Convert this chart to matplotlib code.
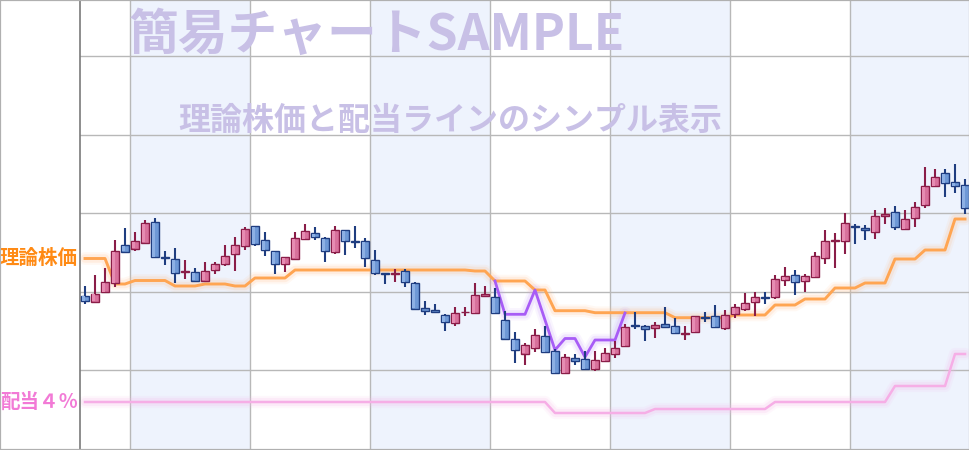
import numpy as np
import matplotlib
matplotlib.use("Agg")
import matplotlib.pyplot as plt
from matplotlib.patches import Rectangle

plt.rcParams['font.family'] = ['Noto Sans CJK JP', 'DejaVu Sans']

# ---- data (price units) ----
opens = [154.3, 148.3, 157.7, 166.7, 204.7, 201.3, 207.3, 227.7, 192.3, 190.7,
         178.5, 177.7, 169.3, 179.7, 185.7, 195.7, 203.7, 223.7, 209.7, 198.7,
         185.7, 191.3, 210.7, 216.7, 211.7, 197.7, 219.7, 208.3, 208.7, 189.7,
         176.3, 176.5, 178.7, 166.7, 141.7, 139.7, 134.7, 126.7, 137.7, 136.7,
         153.7, 152.7, 129.7, 110.7, 96.3, 101.7, 113.7, 98.7, 76.7, 91.7,
         90.7, 80.7, 88.7, 95.7, 103.7, 124.7, 123.7, 121.7, 125.7, 123.7,
         116.0, 117.7, 132.8, 133.7, 121.7, 135.7, 140.7, 147.7, 152.8, 152.7,
         169.7, 174.7, 168.7, 172.7, 191.7, 209.5, 208.7, 223.5, 221.7, 217.7,
         233.7, 237.7, 220.7, 231.7, 244.7, 263.7, 276.7, 267.7, 264.7]
highs = [164.0, 174.7, 182.0, 210.0, 222.0, 218.0, 230.0, 232.0, 199.0, 201.7,
         190.0, 182.0, 188.0, 188.0, 205.0, 213.0, 223.0, 223.7, 218.0, 198.7,
         192.7, 218.0, 226.0, 223.0, 212.7, 224.0, 219.7, 224.0, 211.7, 200.0,
         176.3, 181.0, 181.0, 167.7, 149.0, 146.0, 135.7, 142.7, 142.7, 166.7,
         163.7, 161.7, 138.7, 117.7, 106.7, 120.7, 123.7, 100.7, 95.7, 95.7,
         98.7, 98.7, 101.7, 108.7, 125.7, 137.7, 124.7, 127.7, 142.7, 131.7,
         124.3, 133.7, 137.7, 144.7, 139.7, 145.7, 156.7, 157.7, 157.7, 174.7,
         182.7, 179.7, 175.7, 197.7, 219.7, 216.7, 237.0, 226.0, 224.7, 239.7,
         241.7, 243.7, 239.7, 247.7, 282.7, 280.7, 280.7, 285.7, 270.7]
lows = [146.3, 147.7, 157.7, 163.3, 198.3, 199.3, 206.3, 192.7, 185.0, 167.3,
        171.0, 169.3, 168.7, 175.7, 184.3, 179.3, 200.3, 204.3, 194.3, 176.3,
        178.3, 190.0, 209.7, 209.7, 187.7, 195.7, 194.7, 201.7, 183.3, 175.3,
        165.7, 168.3, 163.3, 140.3, 135.3, 137.7, 119.3, 124.3, 133.7, 136.7,
        152.7, 135.7, 110.7, 86.7, 84.7, 97.7, 97.7, 76.7, 76.7, 84.7,
        79.7, 78.7, 87.7, 91.7, 102.7, 120.7, 108.7, 111.7, 121.7, 115.7,
        110.3, 116.7, 127.7, 121.7, 119.7, 131.7, 138.7, 133.7, 145.7, 150.7,
        163.7, 154.7, 157.7, 172.7, 185.7, 181.7, 195.7, 205.7, 209.7, 210.7,
        225.7, 219.7, 219.7, 222.7, 241.7, 262.7, 252.7, 256.7, 235.7]
closes = [148.7, 156.3, 167.7, 198.7, 198.3, 208.7, 226.7, 192.7, 192.0, 176.7,
          179.0, 169.3, 178.7, 185.7, 193.7, 204.7, 220.7, 205.7, 199.7, 185.7,
          192.7, 211.7, 218.7, 212.7, 198.7, 219.7, 208.7, 208.0, 191.7, 176.7,
          176.0, 177.0, 167.7, 141.0, 138.7, 137.7, 127.7, 136.7, 138.2, 154.7,
          155.7, 136.7, 111.3, 99.7, 104.7, 114.7, 97.7, 76.7, 92.7, 88.7,
          80.7, 89.7, 96.7, 101.7, 122.7, 124.3, 120.7, 124.7, 122.7, 116.7,
          116.5, 133.7, 132.5, 122.7, 134.7, 142.7, 146.7, 152.7, 152.5, 170.7,
          173.7, 167.7, 173.7, 193.7, 208.7, 210.0, 226.7, 223.0, 219.7, 233.7,
          235.7, 222.7, 230.7, 242.7, 263.7, 272.7, 266.7, 263.7, 241.7]

# theoretical price line (理論株価)
theory = [191.5, 191.5, 191.5, 166.0, 166.0, 169.5, 169.5, 169.5, 169.5, 164.0,
          164.0, 164.0, 166.0, 166.0, 166.0, 164.0, 164.0, 172.0, 172.0, 172.0,
          172.0, 180.0, 180.0, 180.0, 180.0, 180.0, 180.0, 180.0, 180.0, 180.0,
          180.0, 180.0, 180.0, 180.0, 180.0, 180.0, 180.0, 180.0, 180.0, 179.0,
          179.0, 169.0, 169.0, 169.0, 169.0, 160.0, 160.0, 139.3, 139.3, 139.3,
          139.3, 137.3, 137.3, 137.3, 137.3, 137.3, 137.3, 137.3, 137.3, 132.3,
          132.3, 132.3, 132.3, 132.3, 132.3, 135.0, 135.0, 135.0, 135.0, 145.0,
          145.0, 145.0, 151.0, 151.0, 151.0, 162.0, 162.0, 162.0, 167.0, 167.0,
          167.0, 191.0, 191.0, 191.0, 200.0, 200.0, 200.0, 231.0, 231.0]

# lower alternative theoretical line (purple), only where it differs
alt_start = 41
alt_theory = [169.0, 135.7, 135.7, 135.7, 160.0, 130.0, 100.0, 111.5, 111.5,
              93.0, 110.0, 110.0, 110.0, 137.0]

# dividend 4% line (配当４％)
dividend = [48, 48, 48, 48, 48, 48, 48, 48, 48, 48,
            48, 48, 48, 48, 48, 48, 48, 48, 48, 48,
            48, 48, 48, 48, 48, 48, 48, 48, 48, 48,
            48, 48, 48, 48, 48, 48, 48, 48, 48, 48,
            48, 48, 48, 48, 48, 48, 48, 37, 37, 37,
            37, 37, 37, 37, 37, 37, 37, 41, 41, 41,
            41, 41, 41, 41, 41, 41, 41, 41, 41, 48,
            48, 48, 48, 48, 48, 48, 48, 48, 48, 48,
            48, 64, 64, 64, 64, 64, 64, 96, 96]

title = '簡易チャートSAMPLE'
subtitle = '理論株価と配当ラインのシンプル表示'
label_theory = '理論株価'
label_div = '配当４％'

# ---- figure ----
fig = plt.figure(figsize=(9.7, 4.5), dpi=100)
fig.patch.set_facecolor('white')
ax = fig.add_axes([80 / 970, 0, 890 / 970, 1])
n = len(opens)
x = np.arange(n)
ax.set_xlim(-0.5, n - 0.5)
ax.set_ylim(0, 450)

grid_x = [4.5, 16.5, 28.5, 40.5, 52.5, 64.5, 76.5]
grid_y = [79.7, 158.2, 236.7, 315.2, 393.7]
band_color = '#eef3fd'
for k in range(0, len(grid_x), 2):
    right = grid_x[k + 1] if k + 1 < len(grid_x) else n - 0.5
    ax.axvspan(grid_x[k], right, color=band_color, lw=0, zorder=0)
for gx in grid_x:
    ax.axvline(gx, color='#b8b8b8', lw=1, zorder=1)
for gy in grid_y:
    ax.axhline(gy, color='#b8b8b8', lw=1, zorder=1)

for s in ['top', 'right', 'bottom']:
    ax.spines[s].set_visible(False)
ax.spines['left'].set_color('#7a7a7a')
ax.spines['left'].set_linewidth(1.2)
ax.set_xticks([])
ax.set_yticks([])


def glow_line(xs, ys, color, glow, lw):
    ax.plot(xs, ys, color=glow, lw=lw + 7, alpha=0.10, solid_capstyle='round', zorder=2)
    ax.plot(xs, ys, color=glow, lw=lw + 4, alpha=0.18, solid_capstyle='round', zorder=2)
    ax.plot(xs, ys, color=color, lw=lw, zorder=3, solid_joinstyle='round')


glow_line(x, dividend, '#f6aee6', '#f7b8ea', 1.8)
glow_line(x, theory, '#ffa552', '#ffc08a', 2.1)
xa = np.arange(alt_start, alt_start + len(alt_theory))
glow_line(xa, alt_theory, '#a85cf6', '#c9a0fa', 2.0)

# ---- candles ----
o = np.array(opens); c = np.array(closes)
h = np.array(highs); l = np.array(lows)
up = c >= o
fill = np.where(up, '#d8719c', '#6e98d6')
edge = np.where(up, '#8a1d48', '#1f3d80')
light = np.where(up, '#e68cb2', '#8db0e4')
bottom = np.minimum(o, c)
height = np.maximum(np.abs(c - o), 0.6)

ax.vlines(x, l, h, colors=edge, lw=1.5, zorder=4)
ax.bar(x, height, 0.8, bottom=bottom, color=fill, edgecolor=edge, linewidth=1.0, zorder=5)
big = height > 3
ax.bar(x[big] - 0.15, height[big] - 1.2, 0.25, bottom=bottom[big] + 0.6,
       color=light[big], lw=0, zorder=6)

# ---- texts ----
fig.text(78 / 970, 1 - 258 / 450, label_theory, ha='right', va='center',
         color='#ff8a14', fontsize=14, fontweight='bold')
fig.text(78 / 970, 1 - 402 / 450, label_div, ha='right', va='center',
         color='#f27ad6', fontsize=14, fontweight='bold')
fig.text(129 / 970, 1 - 35 / 450, title, ha='left', va='center',
         color='#c8c0e6', fontsize=35.8, fontweight='bold', zorder=10)
fig.text(178 / 970, 1 - 121 / 450, subtitle, ha='left', va='center',
         color='#c8c0e6', fontsize=23, fontweight='bold', zorder=10)

fig.add_artist(Rectangle((0, 0), 1, 1, transform=fig.transFigure, fill=False,
                         ec='#b0b0b0', lw=1.6, zorder=20))

fig.savefig('out.png', dpi=100, facecolor='white')
